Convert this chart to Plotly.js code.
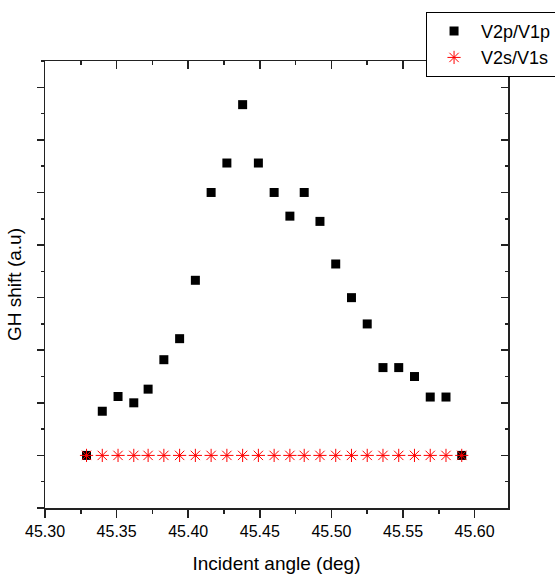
<!DOCTYPE html>
<html>
<head>
<meta charset="utf-8">
<script src="https://cdn.plot.ly/plotly-3.0.1.min.js"></script>
<style>
html,body{margin:0;padding:0;background:#fff;}
#chart{width:555px;height:577px;}
</style>
</head>
<body>
<div id="chart"></div>
<script>
// Incident angle (deg)
const angle = [45.329, 45.340, 45.351, 45.362, 45.372, 45.383, 45.394, 45.405, 45.416,
               45.427, 45.438, 45.449, 45.460, 45.471, 45.481, 45.492, 45.503, 45.514,
               45.525, 45.536, 45.547, 45.558, 45.569, 45.580, 45.591];
// GH shift (a.u) for V2p/V1p
const ghP = [0, 0.84, 1.12, 1.00, 1.26, 1.82, 2.22, 3.33, 5.00,
             5.56, 6.67, 5.56, 5.00, 4.55, 5.00, 4.45, 3.64, 3.00,
             2.50, 1.67, 1.67, 1.50, 1.11, 1.11, 0];
// GH shift (a.u) for V2s/V1s
const ghS = [0, 0, 0, 0, 0, 0, 0, 0, 0, 0, 0, 0, 0, 0, 0, 0, 0, 0, 0, 0, 0, 0, 0, 0, 0];
const seriesNames = ['V2p/V1p', 'V2s/V1s'];
const xTickVals = [45.30, 45.35, 45.40, 45.45, 45.50, 45.55, 45.60];
const xTickText = ['45.30', '45.35', '45.40', '45.45', '45.50', '45.55', '45.60'];

const FONT = 'Liberation Sans, Arial, sans-serif';
const AX = '#222';

const traces = [
  {x: angle, y: ghP, name: seriesNames[0], type: 'scatter', mode: 'markers',
   marker: {symbol: 'square', size: 9, color: '#000'}},
  {x: angle, y: ghS, name: seriesNames[1], type: 'scatter', mode: 'markers',
   marker: {symbol: 'asterisk-open', size: 11, color: '#ff0000', line: {color: '#ff0000', width: 1}}},
  // helper trace so the mirrored top/right axes are drawn
  {x: angle, y: ghS, xaxis: 'x2', yaxis: 'y2', type: 'scatter', mode: 'markers',
   showlegend: false, hoverinfo: 'skip', marker: {opacity: 0, size: 1}}
];

const xr = [45.30, 45.6233];
const yr = [-1, 7.5];

const layout = {
  width: 555, height: 577,
  margin: {l: 45, r: 47, t: 61, b: 69, pad: 0, autoexpand: false},
  paper_bgcolor: '#fff', plot_bgcolor: '#fff',
  font: {family: FONT, color: '#000'},
  showlegend: true,
  legend: {
    x: 0.823, y: 1.11, xanchor: 'left', yanchor: 'top',
    bordercolor: '#000', borderwidth: 1, bgcolor: '#fff',
    font: {family: FONT, size: 18, color: '#000'},
    itemwidth: 44
  },
  xaxis: {
    range: xr, showgrid: false, zeroline: false,
    showline: true, linecolor: AX, linewidth: 1.5,
    ticks: 'outside', ticklen: 8, tickwidth: 1.5, tickcolor: AX,
    tickmode: 'array', tickvals: xTickVals, ticktext: xTickText,
    tickfont: {family: FONT, size: 16, color: '#000'},
    minor: {dtick: 0.025, tick0: 45.30, ticks: 'outside', ticklen: 4, tickwidth: 1.5, tickcolor: AX},
    title: {text: 'Incident angle (deg)', font: {family: FONT, size: 19, color: '#000'}, standoff: 18}
  },
  xaxis2: {
    range: xr, overlaying: 'x', side: 'top', anchor: 'y2',
    showgrid: false, zeroline: false,
    showline: true, linecolor: AX, linewidth: 1.5,
    ticks: 'inside', ticklen: 8, tickwidth: 1.5, tickcolor: AX,
    tickmode: 'array', tickvals: xTickVals, showticklabels: false,
    minor: {dtick: 0.025, tick0: 45.30, ticks: 'inside', ticklen: 4, tickwidth: 1.5, tickcolor: AX}
  },
  yaxis: {
    range: yr, showgrid: false, zeroline: false,
    showline: true, linecolor: AX, linewidth: 1.5,
    ticks: 'outside', ticklen: 7, tickwidth: 1.5, tickcolor: AX,
    tickmode: 'linear', tick0: 0, dtick: 1, showticklabels: false,
    minor: {dtick: 0.5, tick0: 0, ticks: 'outside', ticklen: 3, tickwidth: 1.5, tickcolor: AX},
    title: {text: 'GH shift (a.u)', font: {family: FONT, size: 19, color: '#000'}, standoff: 10}
  },
  yaxis2: {
    range: yr, overlaying: 'y', side: 'right', anchor: 'x2',
    showgrid: false, zeroline: false,
    showline: true, linecolor: AX, linewidth: 1.5,
    ticks: 'inside', ticklen: 7, tickwidth: 1.5, tickcolor: AX,
    tickmode: 'linear', tick0: 0, dtick: 1, showticklabels: false,
    minor: {dtick: 0.5, tick0: 0, ticks: 'inside', ticklen: 3, tickwidth: 1.5, tickcolor: AX}
  }
};

Plotly.newPlot('chart', traces, layout, {displayModeBar: false, staticPlot: true});
</script>
</body>
</html>
